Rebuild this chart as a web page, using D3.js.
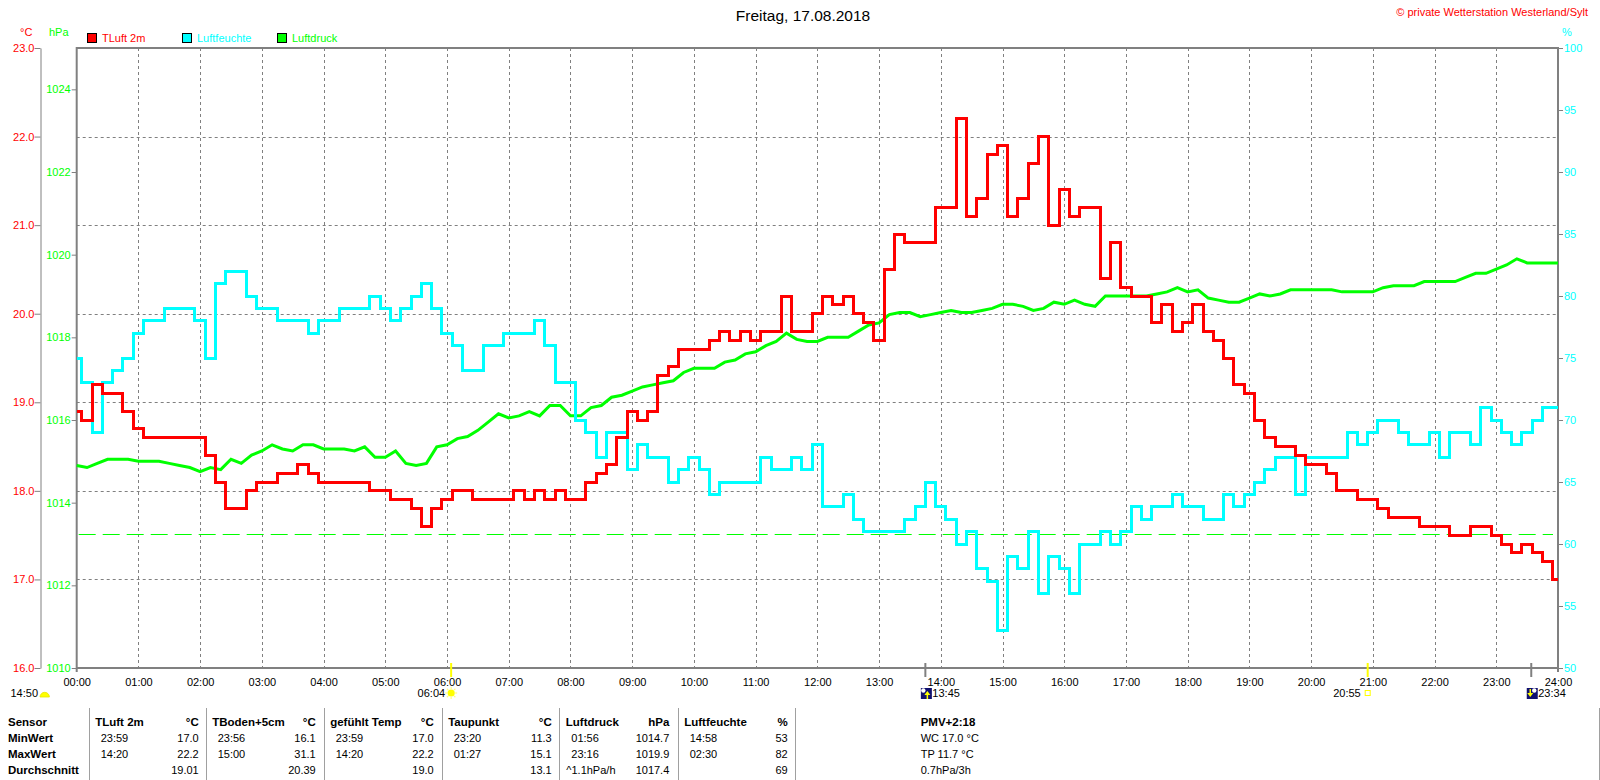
<!DOCTYPE html>
<html>
<head>
<meta charset="utf-8">
<script src="https://cdn.jsdelivr.net/npm/d3@7"></script>
<style>
  body { margin: 0; background: #fff; }
  svg { display: block; font-family: "Liberation Sans", Arial, sans-serif; }
</style>
</head>
<body>
<svg id="wetter" width="1600" height="780"></svg>
<script>
// samples every 10 minutes, 00:00 .. 24:00
let stepMinutes = 10;

let tempValues = [
  18.9, 18.8, 19.2, 19.1, 19.1, 18.9, 18.7, 18.6, 18.6, 18.6, 18.6, 18.6,
  18.6, 18.4, 18.1, 17.8, 17.8, 18.0, 18.1, 18.1, 18.2, 18.2, 18.3, 18.2,
  18.1, 18.1, 18.1, 18.1, 18.1, 18.0, 18.0, 17.9, 17.9, 17.8, 17.6, 17.8,
  17.9, 18.0, 18.0, 17.9, 17.9, 17.9, 17.9, 18.0, 17.9, 18.0, 17.9, 18.0,
  17.9, 17.9, 18.1, 18.2, 18.3, 18.6, 18.9, 18.8, 18.9, 19.3, 19.4, 19.6,
  19.6, 19.6, 19.7, 19.8, 19.7, 19.8, 19.7, 19.8, 19.8, 20.2, 19.8, 19.8,
  20.0, 20.2, 20.1, 20.2, 20.0, 19.9, 19.7, 20.5, 20.9, 20.8, 20.8, 20.8,
  21.2, 21.2, 22.2, 21.1, 21.3, 21.8, 21.9, 21.1, 21.3, 21.7, 22.0, 21.0,
  21.4, 21.1, 21.2, 21.2, 20.4, 20.8, 20.3, 20.2, 20.2, 19.9, 20.1, 19.8,
  19.9, 20.1, 19.8, 19.7, 19.5, 19.2, 19.1, 18.8, 18.6, 18.5, 18.5, 18.4,
  18.3, 18.3, 18.2, 18.0, 18.0, 17.9, 17.9, 17.8, 17.7, 17.7, 17.7, 17.6,
  17.6, 17.6, 17.5, 17.5, 17.6, 17.6, 17.5, 17.4, 17.3, 17.4, 17.3, 17.2, 17.0
];

let humValues = [
  75, 73, 69, 73, 74, 75, 77, 78, 78, 79, 79, 79,
  78, 75, 81, 82, 82, 80, 79, 79, 78, 78, 78, 77,
  78, 78, 79, 79, 79, 80, 79, 78, 79, 80, 81, 79,
  77, 76, 74, 74, 76, 76, 77, 77, 77, 78, 76, 73,
  73, 70, 69, 67, 69, 69, 66, 68, 67, 67, 65, 66,
  67, 66, 64, 65, 65, 65, 65, 67, 66, 66, 67, 66,
  68, 63, 63, 64, 62, 61, 61, 61, 61, 62, 63, 65,
  63, 62, 60, 61, 58, 57, 53, 59, 58, 61, 56, 59,
  58, 56, 60, 60, 61, 60, 61, 63, 62, 63, 63, 64,
  63, 63, 62, 62, 64, 63, 64, 65, 66, 67, 67, 64,
  67, 67, 67, 67, 69, 68, 69, 70, 70, 69, 68, 68,
  69, 67, 69, 69, 68, 71, 70, 69, 68, 69, 70, 71, 71
];

let presValues = [
  1014.9, 1014.85, 1014.95, 1015.05, 1015.05, 1015.05, 1015.0, 1015.0, 1015.0, 1014.95, 1014.9, 1014.85,
  1014.75, 1014.85, 1014.8, 1015.05, 1014.95, 1015.15, 1015.25, 1015.4, 1015.3, 1015.25, 1015.4, 1015.4,
  1015.3, 1015.3, 1015.3, 1015.25, 1015.35, 1015.1, 1015.1, 1015.25, 1014.95, 1014.9, 1014.95, 1015.35,
  1015.4, 1015.55, 1015.6, 1015.75, 1015.95, 1016.15, 1016.05, 1016.1, 1016.2, 1016.1, 1016.35, 1016.35,
  1016.1, 1016.1, 1016.3, 1016.35, 1016.55, 1016.6, 1016.7, 1016.8, 1016.85, 1016.9, 1016.95, 1017.15,
  1017.25, 1017.25, 1017.25, 1017.4, 1017.45, 1017.6, 1017.65, 1017.8, 1017.9, 1018.1, 1017.95, 1017.9,
  1017.9, 1018.0, 1018.0, 1018.0, 1018.15, 1018.3, 1018.35, 1018.55, 1018.6, 1018.6, 1018.5, 1018.55,
  1018.6, 1018.65, 1018.6, 1018.6, 1018.65, 1018.7, 1018.8, 1018.8, 1018.75, 1018.65, 1018.7, 1018.85,
  1018.8, 1018.9, 1018.8, 1018.75, 1019.0, 1019.0, 1019.0, 1019.0, 1019.0, 1019.05, 1019.1, 1019.2,
  1019.1, 1019.15, 1018.95, 1018.9, 1018.85, 1018.85, 1018.95, 1019.05, 1019.0, 1019.05, 1019.15, 1019.15,
  1019.15, 1019.15, 1019.15, 1019.1, 1019.1, 1019.1, 1019.1, 1019.2, 1019.25, 1019.25, 1019.25, 1019.35,
  1019.35, 1019.35, 1019.35, 1019.45, 1019.55, 1019.55, 1019.65, 1019.75, 1019.9, 1019.8, 1019.8, 1019.8, 1019.8
];

let hourTicks = [0, 1, 2, 3, 4, 5, 6, 7, 8, 9, 10, 11, 12, 13, 14, 15, 16, 17, 18, 19, 20, 21, 22, 23, 24];
let tempTicks = [16, 17, 18, 19, 20, 21, 22, 23];
let presTicks = [1010, 1012, 1014, 1016, 1018, 1020, 1022, 1024];
let humTicks = [50, 55, 60, 65, 70, 75, 80, 85, 90, 95, 100];
let normalPressure = 1013.25;

let seriesNames = ["TLuft 2m", "Luftfeuchte", "Luftdruck"];
let seriesColors = ["#ff0000", "#00ffff", "#00ff00"];

// sun / moon events under the time axis
let sunrise = "06:04";
let sunset = "20:55";
let moonrise = "13:45";
let moonset = "23:34";
let moonsetBefore = "14:50";

// statistics table
let rowLabels = ["Sensor", "MinWert", "MaxWert", "Durchschnitt"];
let sensorNames = ["TLuft 2m", "TBoden+5cm", "gefühlt Temp", "Taupunkt", "Luftdruck", "Luftfeuchte"];
let sensorUnits = ["°C", "°C", "°C", "°C", "hPa", "%"];
let minTimes = ["23:59", "23:56", "23:59", "23:20", "01:56", "14:58"];
let minValues = ["17.0", "16.1", "17.0", "11.3", "1014.7", "53"];
let maxTimes = ["14:20", "15:00", "14:20", "01:27", "23:16", "02:30"];
let maxValues = ["22.2", "31.1", "22.2", "15.1", "1019.9", "82"];
let avgNotes = ["", "", "", "", "^1.1hPa/h", ""];
let avgValues = ["19.01", "20.39", "19.0", "13.1", "1017.4", "69"];
let pmvLines = ["PMV+2:18", "WC 17.0 °C", "TP 11.7 °C", "0.7hPa/3h"];

let svg = d3.select("#wetter");
let pLeft = 76.7, pRight = 1558, pTop = 48, pBottom = 668;
let grey = "#808080";

let x = d3.scaleLinear().domain([0, 24 * 60]).range([pLeft, pRight]);
let yT = d3.scaleLinear().domain([16, 23]).range([pBottom, pTop]);
let yP = d3.scaleLinear().domain([1010, 1025]).range([pBottom, pTop]);
let yH = d3.scaleLinear().domain([50, 100]).range([pBottom, pTop]);

function toMinutes(s) {
  let [h, m] = s.split(":").map(Number);
  return h * 60 + m;
}
function pad(n) { return (n < 10 ? "0" : "") + n; }

// title and header texts
svg.append("text").text("Freitag, 17.08.2018")
  .attr("x", 803).attr("y", 21).attr("text-anchor", "middle")
  .style("font-size", "15.5px").attr("fill", "#000");
svg.append("text").text("© private Wetterstation Westerland/Sylt")
  .attr("x", 1588).attr("y", 16).attr("text-anchor", "end")
  .style("font-size", "11px").attr("fill", "#ff0000");
svg.append("text").text("°C").attr("x", 20).attr("y", 36)
  .style("font-size", "11px").attr("fill", "#ff0000");
svg.append("text").text("hPa").attr("x", 49).attr("y", 36)
  .style("font-size", "11px").attr("fill", "#00ff00");
svg.append("text").text("%").attr("x", 1562).attr("y", 36)
  .style("font-size", "11px").attr("fill", "#00ffff");

// legend
let legend = svg.append("g").selectAll("g")
  .data(seriesNames).enter().append("g")
  .attr("transform", (d, i) => `translate(${87.5 + i * 95},33.5)`);
legend.append("rect").attr("width", 9).attr("height", 9)
  .attr("fill", (d, i) => seriesColors[i]).attr("stroke", "#000").attr("stroke-width", 1);
legend.append("text").text(d => d).attr("x", 14.5).attr("y", 8.5)
  .style("font-size", "11px").attr("fill", (d, i) => seriesColors[i]);

// grid
let grid = svg.append("g").attr("stroke", grey).attr("stroke-width", 1).attr("stroke-dasharray", "3,3");
grid.selectAll("line.v").data(hourTicks.slice(1, -1)).enter().append("line")
  .attr("class", "v")
  .attr("x1", h => Math.round(x(h * 60)) + 0.5).attr("x2", h => Math.round(x(h * 60)) + 0.5)
  .attr("y1", pTop).attr("y2", pBottom);
grid.selectAll("line.h").data(tempTicks.slice(1, -1)).enter().append("line")
  .attr("class", "h")
  .attr("x1", pLeft).attr("x2", pRight)
  .attr("y1", t => Math.round(yT(t)) + 0.5).attr("y2", t => Math.round(yT(t)) + 0.5);

// normal pressure reference
svg.append("line")
  .attr("x1", pLeft + 2).attr("x2", pRight - 5)
  .attr("y1", Math.round(yP(normalPressure)) + 0.5).attr("y2", Math.round(yP(normalPressure)) + 0.5)
  .attr("stroke", "#00ff00").attr("stroke-width", 1).attr("stroke-dasharray", "17,7");

// axes
function styleAxis(g, color) {
  g.selectAll("text").attr("fill", color).style("font-size", "11px")
    .style("font-family", "'Liberation Sans', Arial, sans-serif");
  g.selectAll("line").attr("stroke", grey);
  g.select(".domain").attr("stroke", grey);
}

svg.append("g").attr("transform", "translate(40.5,0)")
  .call(d3.axisLeft(yT).tickValues(tempTicks).tickFormat(d3.format(".1f"))
    .tickSize(6).tickSizeOuter(0).tickPadding(0))
  .call(g => styleAxis(g, "#ff0000"));

svg.append("g").attr("transform", `translate(${pLeft},0)`)
  .call(d3.axisLeft(yP).tickValues(presTicks).tickFormat(d3.format("d"))
    .tickSize(5).tickPadding(1))
  .call(g => g.select(".domain").remove())
  .call(g => styleAxis(g, "#00ff00"));

svg.append("g").attr("transform", `translate(${pRight},0)`)
  .call(d3.axisRight(yH).tickValues(humTicks).tickFormat(d3.format("d"))
    .tickSize(5).tickPadding(1))
  .call(g => g.select(".domain").remove())
  .call(g => styleAxis(g, "#00ffff"));

svg.append("g").attr("transform", `translate(0,${pBottom})`)
  .call(d3.axisBottom(x).tickValues(hourTicks.map(h => h * 60))
    .tickFormat(m => pad(m / 60) + ":00").tickSize(0).tickPadding(10))
  .call(g => g.select(".domain").remove())
  .call(g => styleAxis(g, "#000"));

// plot frame
svg.append("rect").attr("x", pLeft).attr("y", pTop)
  .attr("width", pRight - pLeft).attr("height", pBottom - pTop)
  .attr("fill", "none").attr("stroke", grey).attr("stroke-width", 2);
svg.selectAll("line.endtick").data([0, 24 * 60]).enter().append("line")
  .attr("class", "endtick")
  .attr("x1", d => x(d)).attr("x2", d => x(d))
  .attr("y1", pBottom).attr("y2", pBottom + 4)
  .attr("stroke", grey).attr("stroke-width", 2);

// series
let plot = svg.append("g");
let presLine = d3.line().x((d, i) => x(i * stepMinutes)).y(d => yP(d));
let humLine = d3.line().curve(d3.curveStep).x((d, i) => x(i * stepMinutes)).y(d => yH(d));
let tempLine = d3.line().curve(d3.curveStep).x((d, i) => x(i * stepMinutes)).y(d => yT(d));

plot.append("path").datum(presValues).attr("d", presLine)
  .attr("fill", "none").attr("stroke", seriesColors[2]).attr("stroke-width", 3);
plot.append("path").datum(humValues).attr("d", humLine)
  .attr("fill", "none").attr("stroke", seriesColors[1]).attr("stroke-width", 3)
  .attr("shape-rendering", "crispEdges");
plot.append("path").datum(tempValues).attr("d", tempLine)
  .attr("fill", "none").attr("stroke", seriesColors[0]).attr("stroke-width", 3)
  .attr("shape-rendering", "crispEdges");

// sun and moon markers
let events = svg.append("g").style("font-size", "11px").attr("fill", "#000");

function eventTick(t, color) {
  events.append("line")
    .attr("x1", x(toMinutes(t))).attr("x2", x(toMinutes(t)))
    .attr("y1", pBottom - 5).attr("y2", pBottom + 9)
    .attr("stroke", color).attr("stroke-width", 2);
}

function moonIcon(cx, up) {
  let g = events.append("g").attr("transform", `translate(${cx - 4.5},688)`);
  g.append("rect").attr("width", 11).attr("height", 11).attr("fill", "#10106e");
  g.append("circle").attr("cx", up ? 2.5 : 7.5).attr("cy", 2.5).attr("r", 2.2).attr("fill", "#fff");
  let ax = up ? 6.5 : 3.5;
  g.append("line").attr("x1", ax).attr("x2", ax).attr("y1", up ? 5 : 1).attr("y2", up ? 11 : 7)
    .attr("stroke", "#ffff00").attr("stroke-width", 1.5);
  g.append("path")
    .attr("d", up ? `M${ax - 3},7 L${ax},3 L${ax + 3},7 Z` : `M${ax - 3},5 L${ax},9 L${ax + 3},5 Z`)
    .attr("fill", "#ffff00");
}

// previous moon set at the left edge
events.append("text").text(moonsetBefore).attr("x", 10.5).attr("y", 697);
events.append("path").attr("d", "M40,697 A4.7,4.7 0 0 1 49.4,697 Z")
  .attr("fill", "#ffff00").attr("stroke", "#e6e600").attr("stroke-width", 0.8);

// sunrise
let xr = x(toMinutes(sunrise));
eventTick(sunrise, "#ffff00");
events.append("text").text(sunrise).attr("x", xr - 6).attr("y", 697).attr("text-anchor", "end");
events.selectAll("line.ray").data([0, 45, 90, 135, 180, 225, 270, 315]).enter().append("line")
  .attr("class", "ray")
  .attr("x1", a => xr + 4 * Math.cos(a * Math.PI / 180)).attr("y1", a => 693 + 4 * Math.sin(a * Math.PI / 180))
  .attr("x2", a => xr + 6 * Math.cos(a * Math.PI / 180)).attr("y2", a => 693 + 6 * Math.sin(a * Math.PI / 180))
  .attr("stroke", "#ffff80").attr("stroke-width", 1.2);
events.append("circle").attr("cx", xr).attr("cy", 693).attr("r", 3.6).attr("fill", "#ffff00");

// moonrise
let xm = x(toMinutes(moonrise));
eventTick(moonrise, grey);
moonIcon(xm, true);
events.append("text").text(moonrise).attr("x", xm + 7).attr("y", 697);

// sunset
let xs = x(toMinutes(sunset));
eventTick(sunset, "#ffff00");
events.append("text").text(sunset).attr("x", xs - 7).attr("y", 697).attr("text-anchor", "end");
events.append("rect").attr("x", xs - 2.5).attr("y", 690.5).attr("width", 5).attr("height", 5)
  .attr("fill", "#fff").attr("stroke", "#ffff00").attr("stroke-width", 1);

// moonset
let xo = x(toMinutes(moonset));
eventTick(moonset, grey);
moonIcon(xo, false);
events.append("text").text(moonset).attr("x", xo + 7).attr("y", 697);

// statistics table
let table = svg.append("g").style("font-size", "11px").attr("fill", "#000");
let rowY = [721.7, 737.7, 753.7, 769.7];
let sepX = [88.7, 205.7, 323.7, 441.7, 559.3, 677.7, 795.3, 1598.5];

table.selectAll("line.sep").data(sepX).enter().append("line")
  .attr("class", "sep")
  .attr("x1", d => Math.round(d) + 0.5).attr("x2", d => Math.round(d) + 0.5)
  .attr("y1", 708).attr("y2", 780)
  .attr("stroke", "#a0a0a0").attr("stroke-width", 1);

table.selectAll("text.row").data(rowLabels).enter().append("text")
  .attr("class", "row").text(d => d)
  .attr("x", 8).attr("y", (d, i) => rowY[i]).attr("dy", "0.36em")
  .style("font-weight", "bold").style("font-size", "11.5px");

let cols = table.selectAll("g.col").data(sensorNames).enter().append("g")
  .attr("class", "col")
  .attr("transform", (d, i) => `translate(${sepX[i]},0)`);

cols.append("text").text(d => d).attr("x", 6.5).attr("y", rowY[0]).attr("dy", "0.36em")
  .style("font-weight", "bold").style("font-size", "11.5px");
cols.append("text").text((d, i) => sensorUnits[i]).attr("x", 110).attr("y", rowY[0]).attr("dy", "0.36em")
  .attr("text-anchor", "end").style("font-weight", "bold").style("font-size", "11.5px");
cols.append("text").text((d, i) => minTimes[i]).attr("x", 12).attr("y", rowY[1]).attr("dy", "0.36em");
cols.append("text").text((d, i) => minValues[i]).attr("x", 110).attr("y", rowY[1]).attr("dy", "0.36em")
  .attr("text-anchor", "end");
cols.append("text").text((d, i) => maxTimes[i]).attr("x", 12).attr("y", rowY[2]).attr("dy", "0.36em");
cols.append("text").text((d, i) => maxValues[i]).attr("x", 110).attr("y", rowY[2]).attr("dy", "0.36em")
  .attr("text-anchor", "end");
cols.append("text").text((d, i) => avgNotes[i]).attr("x", 7).attr("y", rowY[3]).attr("dy", "0.36em");
cols.append("text").text((d, i) => avgValues[i]).attr("x", 110).attr("y", rowY[3]).attr("dy", "0.36em")
  .attr("text-anchor", "end");

table.selectAll("text.pmv").data(pmvLines).enter().append("text")
  .attr("class", "pmv").text(d => d)
  .attr("x", 920.7).attr("y", (d, i) => rowY[i]).attr("dy", "0.36em")
  .style("font-weight", (d, i) => i === 0 ? "bold" : "normal")
  .style("font-size", (d, i) => i === 0 ? "11.5px" : "11px");
</script>
</body>
</html>
